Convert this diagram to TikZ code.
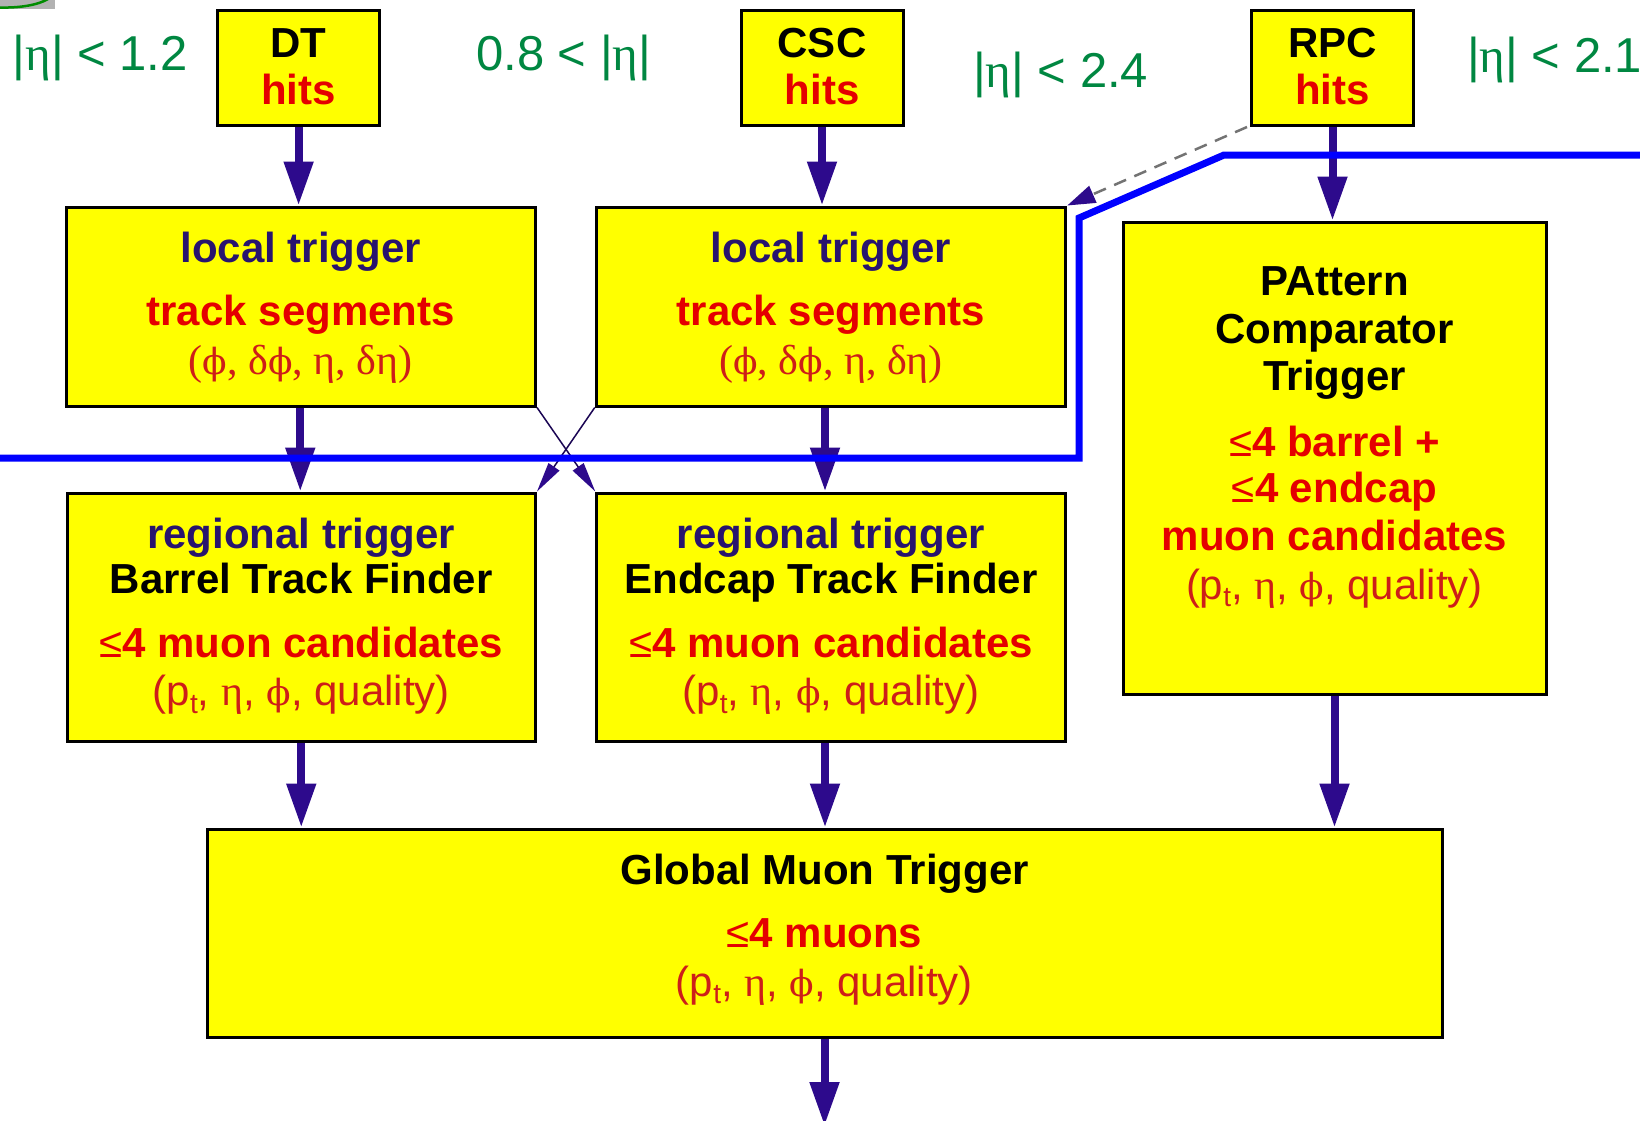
\documentclass[tikz,border=0pt]{standalone}
\usepackage{fontspec}
\setmainfont{Liberation Sans}
\newfontfamily\seriff{Liberation Serif}
\newfontfamily\phif{DejaVu Serif}
\usetikzlibrary{arrows.meta}
\definecolor{navyt}{RGB}{40,20,110}
\definecolor{redt}{RGB}{228,0,0}
\definecolor{redp}{RGB}{205,30,25}
\definecolor{arrowc}{RGB}{45,10,140}
\definecolor{greent}{RGB}{0,135,65}
\definecolor{bluel}{RGB}{0,0,255}
\definecolor{boxy}{RGB}{255,255,0}
\newcommand\bxt[4]{\begin{minipage}[c][#2pt][t]{#1pt}\centering\fontsize{42}{47}\selectfont\rule{0pt}{#3pt}#4\par\end{minipage}}
\newcommand\nb[1]{{\bfseries\color{navyt}#1}}
\newcommand\kb[1]{{\bfseries\color{black}#1}}
\newcommand\rb[1]{{\bfseries\color{redt}#1}}
\newcommand\pr[1]{{\color{redp}#1}}
\newcommand\lsym{{\mdseries ≤}}
\newcommand\fy{{\phif\fontsize{36}{40}\selectfont ϕ}}
\newcommand\ptq{(p\raisebox{-0.35ex}{\fontsize{28}{28}\selectfont t}, {\seriff η}, \fy, quality)}
\begin{document}
\begin{tikzpicture}[x=1pt,y=-1pt,
  box/.style={draw=black, line width=3pt, fill=boxy, inner sep=0pt},
  arr/.style={draw=arrowc, line width=8pt, -{Triangle[length=44pt,width=28pt]}},
  thinarr/.style={draw=arrowc!60!black, line width=1.5pt, -{Triangle[length=30pt,width=13pt,color=arrowc]}},
  dasharr/.style={draw=gray!90!black, line width=2.5pt, dash pattern=on 13pt off 9pt, -{Triangle[length=28pt,width=18pt,color=arrowc]}},
  glabel/.style={font=\fontsize{49}{55}\selectfont, text=greent, inner sep=0pt},
  sepline/.style={draw=bluel, line width=7pt}]
\fill[white] (0,0) rectangle (1640,1120);
\useasboundingbox (0,0) rectangle (1640,1120);
% logo fragment
\fill[gray!60] (0,0) rectangle (55,9);
\draw[green!55!black, line width=2.5pt] (0,7.5) .. controls (20,8) and (38,5) .. (48,-1);
% green labels
\node[glabel, anchor=base west] (e1) at (12.5,70) {|{\seriff η}| < 1.2};
\node[glabel, anchor=base west] (e2) at (476,70) {0.8 < |{\seriff η}|};
\node[glabel, anchor=base west] (e3) at (973,87) {|{\seriff η}| < 2.4};
\node[glabel, anchor=base west] (e4) at (1467,72) {|{\seriff η}| < 2.1};
% hits boxes
\node[box] (dth) at (298.6,68) {\bxt{162}{115}{46.5}{\kb{DT}\\\rb{hits}}};
\node[box] (csch) at (822,68) {\bxt{162}{115}{46.5}{\kb{CSC}\\\rb{hits}}};
\node[box] (rpch) at (1332.5,68) {\bxt{162}{115}{46.5}{\kb{RPC}\\\rb{hits}}};
% local triggers
\node[box] (ldt) at (300.75,306.5) {\bxt{469.5}{199}{55}{\nb{local trigger}\\[16pt]\rb{track segments}\\[2pt]\pr{\seriff (\fy, δ\fy, η, δη)}}};
\node[box] (lcsc) at (831,306.5) {\bxt{469.5}{199}{55}{\nb{local trigger}\\[16pt]\rb{track segments}\\[2pt]\pr{\seriff (\fy, δ\fy, η, δη)}}};
% regional triggers
\node[box] (rbar) at (301.25,617.25) {\bxt{468.5}{248.5}{55.5}{\nb{regional trigger}\\[-2pt]\kb{Barrel Track Finder}\\[17pt]\rb{\lsym4 muon candidates}\\[1pt]\pr{\ptq}}};
\node[box] (rend) at (831,617.25) {\bxt{468.5}{248.5}{55.5}{\nb{regional trigger}\\[-2pt]\kb{Endcap Track Finder}\\[17pt]\rb{\lsym4 muon candidates}\\[1pt]\pr{\ptq}}};
% PACT
\node[box] (pact) at (1334.5,458) {\bxt{423}{472}{73}{\kb{PAttern}\\[1pt]\kb{Comparator}\\\kb{Trigger}\\[19pt]\rb{\lsym4 barrel +}\\[-1pt]\rb{\lsym4 endcap}\\[1pt]\rb{muon candidates}\\[2pt]\pr{\ptq}}};
% GMT
\node[box] (gmt) at (824.5,933.25) {\bxt{1235}{208.5}{55}{\kb{Global Muon Trigger}\\[16pt]\rb{\lsym4 muons}\\[2pt]\pr{\ptq}}};
% arrows
\draw[arr] (dth.south) -- (dth.south |- ldt.north);
\draw[arr] (csch.south) -- (csch.south |- lcsc.north);
\draw[arr] (rpch.south) -- (rpch.south |- pact.north);
\draw[arr] ([xshift=-0.5pt]ldt.south) -- ([xshift=-0.5pt]ldt.south |- rbar.north);
\draw[arr] ([xshift=-6pt]lcsc.south) -- ([xshift=-6pt]lcsc.south |- rend.north);
\draw[arr] (rbar.south) -- (rbar.south |- gmt.north);
\draw[arr] ([xshift=-6pt]rend.south) -- ([xshift=-6pt]rend.south |- gmt.north);
\draw[arr] (pact.south) -- (pact.south |- gmt.north);
\coordinate (out) at (824.5,1126);
\draw[arr] (gmt.south) -- (out);
% cross arrows
\draw[thinarr] (ldt.south east) -- (rend.north west);
\draw[thinarr] (lcsc.south west) -- (rbar.north east);
% dashed RPC to CSC local
\draw[dasharr] ([xshift=-3pt]rpch.south west) -- (lcsc.north east);
% blue separator line
\coordinate (b0) at (-5,458);
\coordinate (b1) at (1079,458);
\coordinate (b2) at (1079,218);
\coordinate (b3) at (1224,155);
\coordinate (b4) at (1650,155);
\draw[sepline] (b0) -- (b1) -- (b2) -- (b3) -- (b4);
\end{tikzpicture}
\end{document}
